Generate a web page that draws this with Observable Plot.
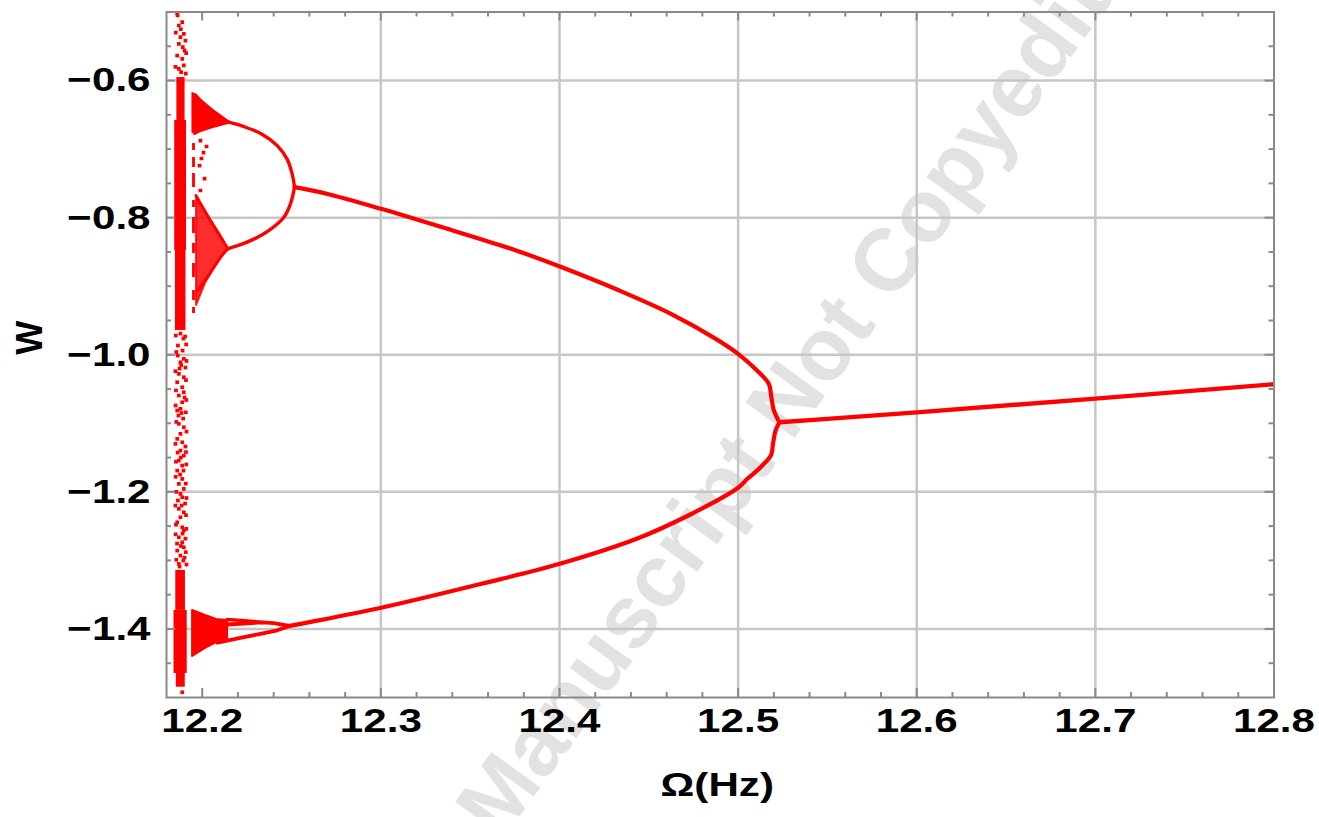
<!DOCTYPE html>
<html>
<head>
<meta charset="utf-8">
<script src="https://cdn.jsdelivr.net/npm/d3@7"></script>
<script src="https://cdn.jsdelivr.net/npm/@observablehq/plot@0.6"></script>
<style>
  html, body { margin: 0; padding: 0; background: #fff; }
  #chart svg { display: block; overflow: visible; }
</style>
</head>
<body>
<div id="chart"></div>
<script>
// ---- axes ----
const xDomain = [12.18, 12.8];
const yDomain = [-1.5, -0.5];
const xTicks = [12.2, 12.3, 12.4, 12.5, 12.6, 12.7, 12.8];
const xTickLabels = ["12.2", "12.3", "12.4", "12.5", "12.6", "12.7", "12.8"];
const xMinorTicks = [12.22, 12.24, 12.26, 12.28, 12.32, 12.34, 12.36, 12.38,
  12.42, 12.44, 12.46, 12.48, 12.52, 12.54, 12.56, 12.58,
  12.62, 12.64, 12.66, 12.68, 12.72, 12.74, 12.76, 12.78];
const xGridLines = [12.3, 12.4, 12.5, 12.6, 12.7];
const yTicks = [-0.6, -0.8, -1.0, -1.2, -1.4];
const yTickLabels = ["\u22120.6", "\u22120.8", "\u22121.0", "\u22121.2", "\u22121.4"];
const yMinorTicks = [-0.55, -0.65, -0.7, -0.75, -0.85, -0.9, -0.95, -1.05, -1.1,
  -1.15, -1.25, -1.3, -1.35, -1.45];
const xLabel = "\u03A9(Hz)";
const yLabel = "W";
const watermark = "Manuscript Not Copyedited";

// ---- bifurcation branches: [Ω, W] ----
const period1 = [[12.5231, -1.0985], [12.55, -1.0935], [12.6, -1.0840],
  [12.7, -1.0640], [12.8, -1.0430]];

const period2Upper = [[12.2517, -0.7555], [12.2696, -0.7651], [12.3001, -0.7871],
  [12.3371, -0.8163], [12.3757, -0.8479], [12.4002, -0.8713], [12.4335, -0.9063],
  [12.4624, -0.9403], [12.4875, -0.9768], [12.5000, -0.9987], [12.5106, -1.0230],
  [12.5172, -1.0424], [12.5185, -1.0600], [12.5200, -1.0813], [12.5231, -1.0985]];

const period2Lower = [[12.5231, -1.0985], [12.5210, -1.1105], [12.5195, -1.1300],
  [12.5185, -1.1460], [12.5126, -1.1640], [12.5052, -1.1810], [12.5000, -1.1940],
  [12.4721, -1.2345], [12.4432, -1.2685], [12.4002, -1.3050], [12.3564, -1.3341],
  [12.3001, -1.3691], [12.2600, -1.3901], [12.2490, -1.3955]];

// upper loop (period 4) around W ≈ -0.75
const loopTop = [[12.2517, -0.7555], [12.2505, -0.7380], [12.2476, -0.7150],
  [12.2420, -0.6950], [12.2330, -0.6775], [12.2230, -0.6670], [12.2149, -0.6608]];
const loopBottom = [[12.2517, -0.7555], [12.2494, -0.7798], [12.2457, -0.7993],
  [12.2382, -0.8170], [12.2310, -0.8285], [12.2230, -0.8380], [12.2143, -0.8454]];

// period 8 offshoots of the upper loop
const p8TopA = [[12.2149, -0.6608], [12.2058, -0.6437], [12.1990, -0.6291], [12.1960, -0.6204]];
const p8TopB = [[12.2149, -0.6608], [12.2058, -0.6670], [12.1990, -0.6729], [12.1957, -0.6772]];
const p8BotA = [[12.2143, -0.8454], [12.2093, -0.8236], [12.2046, -0.8042], [12.1990, -0.7794], [12.1965, -0.7677]];
const p8BotB = [[12.2143, -0.8454], [12.2102, -0.8577], [12.2065, -0.8723], [12.2028, -0.8869], [12.1975, -0.9063]];

// lower pair around W ≈ -1.4
const lowUpperA = [[12.2490, -1.3955], [12.2400, -1.3915], [12.2337, -1.3905], [12.2140, -1.3935]];
const lowUpperB = [[12.2337, -1.3905], [12.2240, -1.3878], [12.2140, -1.3862]];
const lowLower = [[12.2490, -1.3955], [12.2420, -1.4020], [12.2326, -1.4071],
  [12.2214, -1.4129], [12.2140, -1.4170], [12.2085, -1.4200]];

// chaotic wedges: [Ω, W top, W bottom]
const wedgeTop = [[12.1948, -0.6189, -0.6758], [12.2018, -0.6349, -0.6700],
  [12.2074, -0.6495, -0.6656], [12.2149, -0.6608, -0.6608]];
const wedgeMid = [[12.1968, -0.7721, -0.9282], [12.2018, -0.7925, -0.8961],
  [12.2074, -0.8158, -0.8713], [12.2143, -0.8454, -0.8454]];
const wedgeLow = [[12.1946, -1.3731, -1.4402], [12.2018, -1.3804, -1.4285],
  [12.2080, -1.3862, -1.4198], [12.2142, -1.3877, -1.4139]];

// dense chaotic strip near the left edge: [Ω from, Ω to, W from, W to]
const chaosBands = [
  [12.1858, 12.1904, -0.5956, -0.6583],
  [12.1846, 12.1912, -0.6583, -0.8479],
  [12.1850, 12.1909, -0.8479, -0.9646],
  [12.1852, 12.1906, -1.3146, -1.3730],
  [12.1842, 12.1916, -1.3730, -1.4650],
  [12.1855, 12.1905, -1.4650, -1.4850],
  // second thin column
  [12.1946, 12.1962, -0.6919, -0.7021],
  [12.1946, 12.1962, -0.7123, -0.7269],
  [12.1946, 12.1962, -0.7356, -0.7561],
  [12.1946, 12.1962, -0.7750, -0.7852],
  [12.1946, 12.1962, -0.7998, -0.8232],
  [12.1946, 12.1962, -0.8377, -0.8523],
  [12.1946, 12.1962, -0.8669, -0.8873],
  [12.1946, 12.1962, -0.9063, -0.9209],
  [12.1946, 12.1962, -0.9311, -0.9399]
];

// scattered chaotic points
const chaosDots = [
  [12.1860, -0.5020], [12.1862, -0.5051], [12.1888, -0.5149], [12.1869, -0.5197],
  [12.1897, -0.5318], [12.1878, -0.5368], [12.1906, -0.5416], [12.1869, -0.5464],
  [12.1891, -0.5514], [12.1901, -0.5562], [12.1860, -0.5635], [12.1888, -0.5683],
  [12.1897, -0.5780], [12.1869, -0.5829], [12.1882, -0.5878], [12.1852, -0.5300],
  [12.1910, -0.5600], [12.1850, -0.5800], [12.1908, -0.5900], [12.1880, -0.5250],
  [12.1878, -0.9691], [12.1895, -0.9764], [12.1904, -0.9733], [12.1864, -0.9866],
  [12.1890, -0.9939], [12.1863, -1.0012], [12.1897, -1.0060], [12.1878, -1.0110],
  [12.1906, -1.0187], [12.1873, -1.0201], [12.1869, -1.0279], [12.1897, -1.0328],
  [12.1860, -1.0401], [12.1888, -1.0474], [12.1897, -1.0547], [12.1869, -1.0595],
  [12.1901, -1.0624], [12.1888, -1.0693], [12.1878, -1.0789], [12.1860, -1.0814],
  [12.1867, -1.0887], [12.1893, -1.0931], [12.1869, -1.1008], [12.1897, -1.1058],
  [12.1878, -1.1154], [12.1860, -1.1227], [12.1888, -1.1277], [12.1906, -1.1339],
  [12.1878, -1.1398], [12.1862, -1.1427], [12.1897, -1.1471], [12.1869, -1.1544],
  [12.1888, -1.1617], [12.1860, -1.1690], [12.1895, -1.1690], [12.1876, -1.1748],
  [12.1888, -1.1811], [12.1869, -1.1884], [12.1897, -1.1957], [12.1878, -1.2030],
  [12.1888, -1.2079], [12.1864, -1.2127], [12.1904, -1.2171], [12.1869, -1.2248],
  [12.1897, -1.2298], [12.1878, -1.2371], [12.1860, -1.2444], [12.1888, -1.2517],
  [12.1897, -1.2565], [12.1890, -1.2609], [12.1869, -1.2663], [12.1906, -1.2682],
  [12.1888, -1.2736], [12.1859, -1.2755], [12.1897, -1.2809], [12.1860, -1.2857],
  [12.1878, -1.2930], [12.1901, -1.2959], [12.1894, -1.3003], [12.1869, -1.3051],
  [12.1873, -1.3090], [12.1888, -1.4924],
  [12.1852, -0.9720], [12.1910, -0.9850], [12.1855, -0.9960], [12.1912, -1.0090],
  [12.1850, -1.0240], [12.1909, -1.0370], [12.1853, -1.0520], [12.1911, -1.0660],
  [12.1851, -1.0740], [12.1908, -1.0840], [12.1855, -1.0980], [12.1912, -1.1120],
  [12.1850, -1.1300], [12.1909, -1.1420], [12.1853, -1.1560], [12.1911, -1.1600],
  [12.1851, -1.1780], [12.1908, -1.1880], [12.1855, -1.2000], [12.1912, -1.2090],
  [12.1850, -1.2200], [12.1909, -1.2340], [12.1853, -1.2480], [12.1911, -1.2540],
  [12.1851, -1.2620], [12.1908, -1.2880], [12.1855, -1.2990], [12.1912, -1.3060],
  [12.1882, -1.0150], [12.1884, -1.0850], [12.1880, -1.1500], [12.1885, -1.2200],
  [12.1881, -1.2790],
  [12.1990, -0.6875], [12.2024, -0.6962], [12.2007, -0.7050], [12.1996, -0.7137],
  [12.1985, -0.7240], [12.2013, -0.7430], [12.1990, -0.7604]
];

// ---- layout ----
const W = 1319, H = 817;
const mTop = 11.5, mRight = 45.5, mBottom = 120, mLeft = 166;
const frameW = W - mLeft - mRight, frameH = H - mTop - mBottom;
const RED = "#ff0000", AXIS = "#8a8a8a", GRID = "#c6c6c6";
const FONT = "'Liberation Sans', Arial, Helvetica, sans-serif";
const major = 9, minor = 5;

const line = (pts, w = 3.6, curve = "linear") => Plot.line(pts, {
  x: d => d[0], y: d => d[1], stroke: RED, strokeWidth: w, curve,
  strokeLinejoin: "round", strokeLinecap: "round", clip: true
});
const wedge = (pts, opacity = 1) => Plot.areaY(pts, {
  x: d => d[0], y1: d => d[1], y2: d => d[2], fill: RED, fillOpacity: opacity,
  stroke: RED, strokeOpacity: opacity, strokeWidth: 2
});

// inward frame ticks on all four sides
const ticksX = (vals, len) => [
  Plot.ruleX(vals, {x: d => d, stroke: AXIS, strokeWidth: 2, insetTop: frameH - len}),
  Plot.ruleX(vals, {x: d => d, stroke: AXIS, strokeWidth: 2, insetBottom: frameH - len})
];
const ticksY = (vals, len) => [
  Plot.ruleY(vals, {y: d => d, stroke: AXIS, strokeWidth: 2, insetRight: frameW - len}),
  Plot.ruleY(vals, {y: d => d, stroke: AXIS, strokeWidth: 2, insetLeft: frameW - len})
];

const labelStyle = {fontSize: 34, fontWeight: "bold", fill: "#000"};

const chart = Plot.plot({
  width: W, height: H,
  marginTop: mTop, marginRight: mRight, marginBottom: mBottom, marginLeft: mLeft,
  x: {domain: xDomain, axis: null},
  y: {domain: yDomain, axis: null},
  style: {fontFamily: FONT, background: "#fff", overflow: "visible"},
  marks: [
    Plot.text([watermark], {
      frameAnchor: "middle", dx: 94, dy: 8, rotate: -54,
      fontSize: 88, fontWeight: "bold", fill: "#e2e2e2"
    }),
    Plot.ruleX(xGridLines, {x: d => d, stroke: GRID, strokeWidth: 2.5}),
    Plot.ruleY(yTicks, {y: d => d, stroke: GRID, strokeWidth: 2.5}),

    Plot.rect(chaosBands, {x1: d => d[0], x2: d => d[1], y1: d => d[2], y2: d => d[3], fill: RED}),
    Plot.dot(chaosDots, {x: d => d[0], y: d => d[1], symbol: "square", r: 2.1, fill: RED, clip: true}),
    wedge(wedgeTop), wedge(wedgeMid, 0.82), wedge(wedgeLow),

    line(period1, 4.4), line(period2Upper, 4.2, "catmull-rom"), line(period2Lower, 4.2, "catmull-rom"),
    line(loopTop, 3.4, "catmull-rom"), line(loopBottom, 3.4, "catmull-rom"),
    line(p8TopA, 3), line(p8TopB, 3), line(p8BotA, 3), line(p8BotB, 3),
    line(lowUpperA, 3.8), line(lowUpperB, 3.4), line(lowLower, 3.8),

    Plot.frame({stroke: AXIS, strokeWidth: 2}),
    ...ticksX(xTicks, major), ...ticksX(xMinorTicks, minor),
    ...ticksY(yTicks, major), ...ticksY(yMinorTicks, minor),

    Plot.text(xTicks, {
      x: d => d, text: (d, i) => xTickLabels[i], frameAnchor: "bottom", dy: 34, ...labelStyle
    }),
    Plot.text(yTicks, {
      y: d => d, text: (d, i) => yTickLabels[i], frameAnchor: "left", dx: -24,
      textAnchor: "end", ...labelStyle
    }),
    Plot.text([xLabel], {frameAnchor: "bottom", dx: -3, dy: 98, ...labelStyle}),
    Plot.text([yLabel], {frameAnchor: "left", dx: -136, rotate: -90, ...labelStyle, fontSize: 36})
  ]
});
document.getElementById("chart").appendChild(chart);

// widen the horizontal tick and axis labels about their own centres
const wideTexts = new Set([...xTickLabels, ...yTickLabels, xLabel]);
chart.querySelectorAll("text").forEach(t => {
  if (!wideTexts.has(t.textContent)) return;
  const b = t.getBBox();
  const cx = b.x + b.width / 2, cy = b.y + b.height / 2;
  const prev = t.getAttribute("transform") || "";
  t.setAttribute("transform",
    `${prev} translate(${cx},${cy}) scale(1.24,1) translate(${-cx},${-cy})`.trim());
});
</script>
</body>
</html>
